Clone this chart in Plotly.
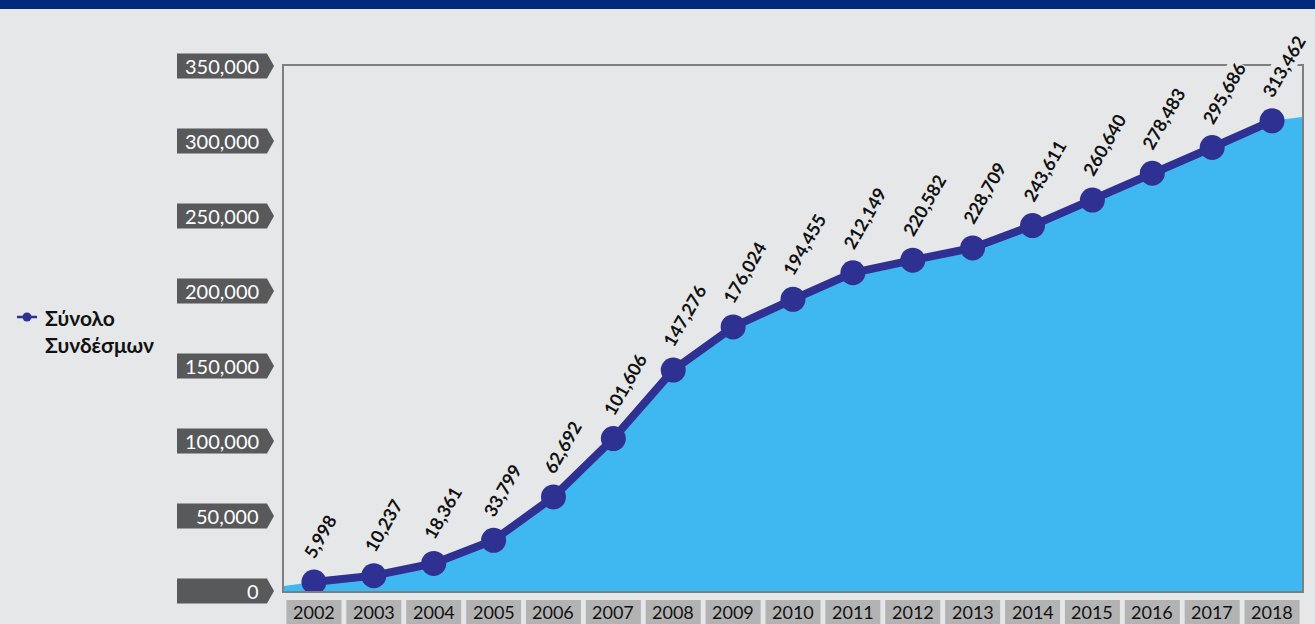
import plotly.graph_objects as go

years = ["2002", "2003", "2004", "2005", "2006", "2007", "2008", "2009", "2010",
         "2011", "2012", "2013", "2014", "2015", "2016", "2017", "2018"]
connections = [5998, 10237, 18361, 33799, 62692, 101606, 147276, 176024, 194455,
               212149, 220582, 228709, 243611, 260640, 278483, 295686, 313462]
y_ticks = [0, 50000, 100000, 150000, 200000, 250000, 300000, 350000]
area_edges = [3300, 316000]  # area value at left / right plot edges
series_name = ["Σύνολο", "Συνδέσμων"]

W, H = 1315, 624
L, R, T, B = 284, 13, 66, 33
PW, PH = W - L - R, H - T - B
BG = "#e6e7e8"
NAVY = "#2e3192"
AREA = "#3fb8f1"
FONT = "Lato, 'Noto Sans', sans-serif"

def px_x(p):
    return (p - L) / PW

def px_y(p):
    return (H - B - p) / PH

idx = list(range(len(years)))
n = len(years)

fig = go.Figure()
fig.add_trace(go.Scatter(
    x=[-0.5] + idx + [n - 0.5],
    y=[area_edges[0]] + connections + [area_edges[1]],
    mode="none", fill="tozeroy", fillcolor=AREA, hoverinfo="skip", showlegend=False))
fig.add_trace(go.Scatter(
    x=idx, y=connections, mode="lines+markers",
    line=dict(color=NAVY, width=8), marker=dict(color=NAVY, size=25),
    showlegend=False, name=" ".join(series_name)))

shapes = []
annotations = []

# top bar
shapes.append(dict(type="rect", xref="paper", yref="paper",
                   x0=px_x(0), x1=px_x(W), y0=px_y(0), y1=px_y(9),
                   fillcolor="#002a7c", line=dict(width=0), layer="above"))

# y tick boxes
ymax = y_ticks[-1]
for v in y_ticks:
    shapes.append(dict(type="path", xref="paper", yref="paper",
                       xsizemode="pixel", ysizemode="pixel",
                       xanchor=0, yanchor=v / ymax,
                       path="M -107 -12.5 L -17 -12.5 L -10 0 L -17 12.5 L -107 12.5 Z",
                       fillcolor="#58595b", line=dict(width=0)))
    annotations.append(dict(xref="paper", yref="paper", x=0, y=v / ymax,
                            xanchor="right", yanchor="middle", xshift=-23,
                            text=f"{v:,}", showarrow=False,
                            font=dict(family=FONT, size=20, color="white")))

# x category boxes
for i, yr in enumerate(years):
    cx = (i + 0.5) / n
    shapes.append(dict(type="rect", xref="paper", yref="paper",
                       xsizemode="pixel", ysizemode="pixel",
                       xanchor=cx, yanchor=0,
                       x0=-27.5, x1=27.5, y0=-9, y1=-45,
                       fillcolor="#b3b3b3", line=dict(width=0)))
    annotations.append(dict(xref="paper", yref="paper", x=cx, y=0,
                            xanchor="center", yanchor="top", yshift=-9,
                            text=yr, showarrow=False, borderpad=0,
                            font=dict(family=FONT, size=18, color="#111111")))

# data labels
for i, v in enumerate(connections):
    annotations.append(dict(xref="x", yref="y", x=i, y=v,
                            xanchor="left", yanchor="bottom",
                            xshift=-16, yshift=19, textangle=-60,
                            text=f"<b>{v:,}</b>", showarrow=False,
                            bgcolor=BG, borderpad=0,
                            font=dict(family=FONT, size=18, color="#111111")))

# legend
shapes.append(dict(type="line", xref="paper", yref="paper",
                   x0=px_x(17), x1=px_x(37), y0=px_y(317), y1=px_y(317),
                   line=dict(color=NAVY, width=2.5)))
shapes.append(dict(type="circle", xref="paper", yref="paper",
                   xsizemode="pixel", ysizemode="pixel",
                   xanchor=px_x(27), yanchor=px_y(317),
                   x0=-4.5, x1=4.5, y0=-4.5, y1=4.5,
                   fillcolor=NAVY, line=dict(width=0)))
for k, (word, yp) in enumerate(zip(series_name, [317, 345])):
    annotations.append(dict(xref="paper", yref="paper", x=px_x(43), y=px_y(yp),
                            xanchor="left", yanchor="middle",
                            text=f"<b>{word}</b>", showarrow=False,
                            font=dict(family=FONT, size=21, color="#111111")))

fig.update_layout(
    width=W, height=H,
    margin=dict(l=L, r=R, t=T, b=B, pad=0),
    paper_bgcolor=BG, plot_bgcolor=BG,
    shapes=shapes, annotations=annotations,
    xaxis=dict(range=[-0.5, n - 0.5], showgrid=False, zeroline=False,
               showticklabels=False, ticks="", showline=True, mirror=True,
               linecolor="#7f7f7f", linewidth=1.5, fixedrange=True),
    yaxis=dict(range=[0, ymax], showgrid=False, zeroline=False,
               showticklabels=False, ticks="", showline=True, mirror=True,
               linecolor="#7f7f7f", linewidth=1.5, fixedrange=True),
    font=dict(family=FONT),
)

fig.write_html("out.html", config={"displayModeBar": False},
               post_script="document.body.style.margin='0';document.body.style.overflow='hidden';")
